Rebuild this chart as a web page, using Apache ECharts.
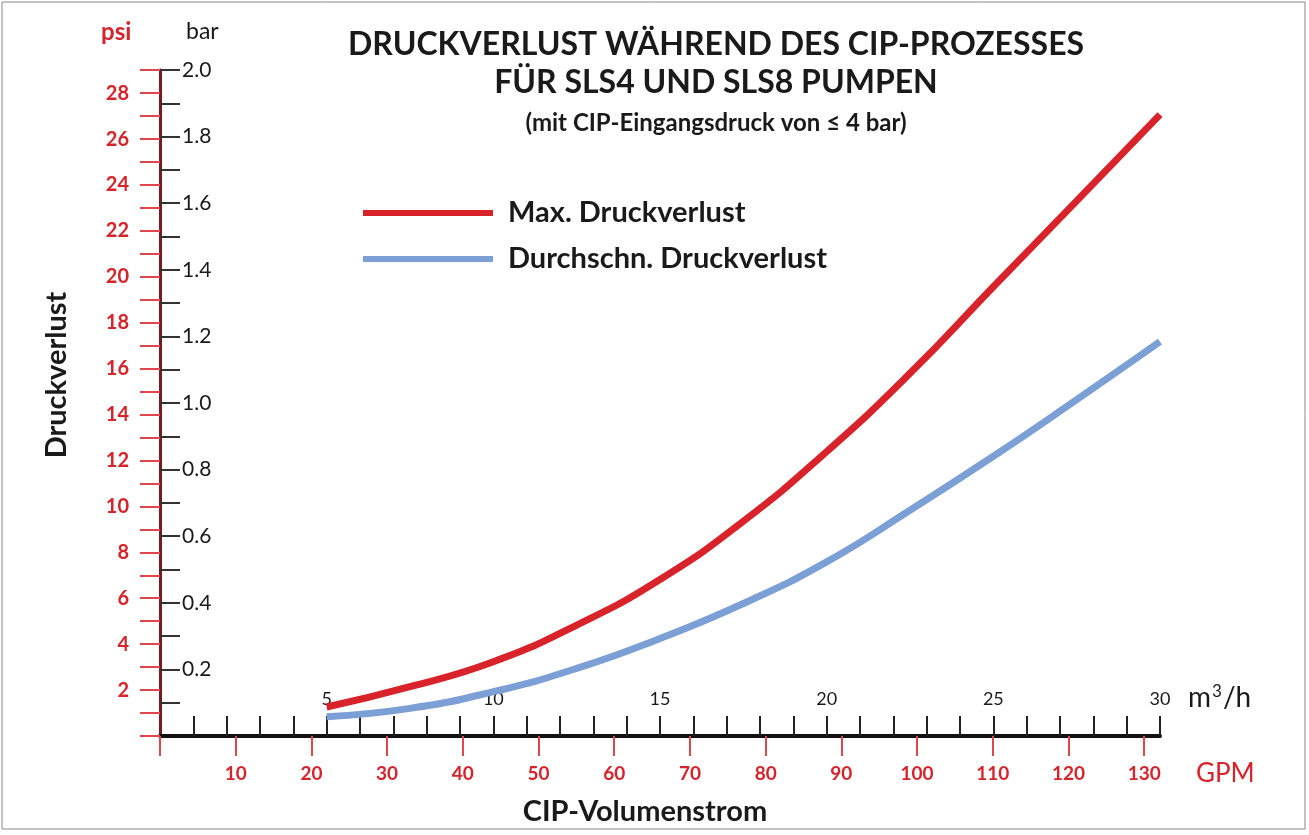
<!DOCTYPE html>
<html>
<head>
<meta charset="utf-8">
<script src="https://cdn.jsdelivr.net/npm/echarts@6/dist/echarts.min.js"></script>
<style>
  html, body { margin: 0; padding: 0; background: #fff; }
  #chart { width: 1309px; height: 835px; }
</style>
</head>
<body>
<div id="chart"></div>
<script>
// flow in m3/h, pressure loss in bar
var flow = [5, 7.5, 10, 12.5, 15, 17.5, 20, 22.5, 25, 27.5, 30];
var maxLoss = [0.087, 0.148, 0.223, 0.333, 0.470, 0.645, 0.854, 1.089, 1.349, 1.607, 1.866];
var avgLoss = [0.058, 0.083, 0.133, 0.203, 0.293, 0.398, 0.523, 0.678, 0.840, 1.010, 1.184];

var flowTicks = [1,2,3,4,5,6,7,8,9,10,11,12,13,14,15,16,17,18,19,20,21,22,23,24,25,26,27,28,29,30];
var flowLabels = [5, 10, 15, 20, 25, 30];
var gpmTicks = [0,10,20,30,40,50,60,70,80,90,100,110,120,130];
var gpmLabels = [10,20,30,40,50,60,70,80,90,100,110,120,130];
var barTicks = [0.1,0.2,0.3,0.4,0.5,0.6,0.7,0.8,0.9,1.0,1.1,1.2,1.3,1.4,1.5,1.6,1.7,1.8,1.9,2.0];
var barLabels = [0.2,0.4,0.6,0.8,1.0,1.2,1.4,1.6,1.8,2.0];
var psiTicks = [0,1,2,3,4,5,6,7,8,9,10,11,12,13,14,15,16,17,18,19,20,21,22,23,24,25,26,27,28,29];
var psiLabels = [2,4,6,8,10,12,14,16,18,20,22,24,26,28];

var GPM_PER_M3H = 4.40287;
var PSI_PER_BAR = 14.5038;
var FLOW_MAX = 30, BAR_MAX = 2;

var red = '#d8232a';
var blue = '#7c9fd6';
var font = 'Lato';

var chart = echarts.init(document.getElementById('chart'));
chart.setOption({
    backgroundColor: '#fff',
    animation: false,
    title: {
        text: 'DRUCKVERLUST WÄHREND DES CIP-PROZESSES\nFÜR SLS4 UND SLS8 PUMPEN',
        subtext: '(mit CIP-Eingangsdruck von ≤ 4 bar)',
        left: 711,
        top: 21,
        textAlign: 'center',
        itemGap: 9,
        textStyle: { fontFamily: font, fontWeight: 'bold', fontSize: 32, lineHeight: 38, color: '#1a1a1a' },
        subtextStyle: { fontFamily: font, fontWeight: 'bold', fontSize: 24, color: '#1a1a1a' }
    },
    legend: {
        orient: 'vertical',
        left: 363,
        top: 198,
        padding: 0,
        icon: 'rect',
        itemWidth: 130,
        itemHeight: 6,
        itemGap: 16,
        textStyle: { fontFamily: font, fontWeight: 'bold', fontSize: 29, color: '#1a1a1a', lineHeight: 30, padding: [0, 0, 0, 10] },
        data: ['Max. Druckverlust', 'Durchschn. Druckverlust']
    },
    grid: { left: 160, right: 149, top: 70, bottom: 99, outerBoundsMode: 'none' },
    xAxis: [
        {
            type: 'value', position: 'bottom', min: 0, max: FLOW_MAX,
            axisLine: { show: true, lineStyle: { color: '#111', width: 4 } },
            axisTick: { show: true, inside: true, length: 20, customValues: flowTicks, lineStyle: { color: '#222', width: 2 } },
            axisLabel: { inside: true, margin: 28, customValues: flowLabels, color: '#1a1a1a', fontFamily: font, fontSize: 18 },
            splitLine: { show: false }
        },
        {
            type: 'value', position: 'bottom', min: 0, max: FLOW_MAX * GPM_PER_M3H,
            axisLine: { show: false },
            axisTick: { show: true, length: 20, customValues: gpmTicks, lineStyle: { color: '#e0464d', width: 2 } },
            axisLabel: { margin: 28, customValues: gpmLabels, color: red, fontFamily: font, fontWeight: 'bold', fontSize: 19 },
            splitLine: { show: false }
        }
    ],
    yAxis: [
        {
            type: 'value', position: 'left', min: 0, max: BAR_MAX,
            axisLine: { show: true, lineStyle: { color: '#7a1a1e', width: 3 } },
            axisTick: { show: true, inside: true, length: 20, customValues: barTicks, lineStyle: { color: '#333', width: 2 } },
            axisLabel: { inside: true, margin: 22, customValues: barLabels, color: '#1a1a1a', fontFamily: font, fontSize: 21,
                formatter: function (v) { return v.toFixed(1); } },
            splitLine: { show: false }
        },
        {
            type: 'value', position: 'left', min: 0, max: BAR_MAX * PSI_PER_BAR,
            axisLine: { show: false },
            axisTick: { show: true, length: 20, customValues: psiTicks, lineStyle: { color: '#e0464d', width: 2 } },
            axisLabel: { margin: 31, customValues: psiLabels, color: red, fontFamily: font, fontWeight: 'bold', fontSize: 20 },
            splitLine: { show: false }
        }
    ],
    graphic: [
        { type: 'rect', shape: { x: 2, y: 2, width: 1303, height: 827 }, style: { fill: 'none', stroke: '#888', lineWidth: 1 }, silent: true },
        { type: 'text', left: 101, top: 20, style: { text: 'psi', fill: red, font: 'bold 24px Lato' } },
        { type: 'text', left: 186, top: 20, style: { text: 'bar', fill: '#1a1a1a', font: '23px Lato' } },
        { type: 'text', left: 1188, top: 683, style: {
            text: 'm{sup|3}/h', fill: '#1a1a1a', font: '28px Lato',
            rich: { sup: { fontFamily: font, fontSize: 17, verticalAlign: 'top', padding: [0, 1, 12, 1], fill: '#1a1a1a' } }
        } },
        { type: 'text', left: 1196, top: 761, style: { text: 'GPM', fill: red, font: '26px Lato' } },
        { type: 'text', x: 645, y: 812, style: { text: 'CIP-Volumenstrom', fill: '#1a1a1a', font: 'bold 29px Lato', textAlign: 'center', textVerticalAlign: 'middle' } },
        { type: 'text', x: 57, y: 375, rotation: Math.PI / 2, style: { text: 'Druckverlust', fill: '#1a1a1a', font: 'bold 29px Lato', textAlign: 'center', textVerticalAlign: 'middle' } }
    ],
    series: [
        {
            name: 'Max. Druckverlust', type: 'line', xAxisIndex: 0, yAxisIndex: 0,
            smooth: true, showSymbol: false, color: red,
            lineStyle: { width: 7, color: red },
            data: flow.map(function (f, i) { return [f, maxLoss[i]]; })
        },
        {
            name: 'Durchschn. Druckverlust', type: 'line', xAxisIndex: 0, yAxisIndex: 0,
            smooth: true, showSymbol: false, color: blue,
            lineStyle: { width: 7, color: blue },
            data: flow.map(function (f, i) { return [f, avgLoss[i]]; })
        }
    ]
});
</script>
</body>
</html>
